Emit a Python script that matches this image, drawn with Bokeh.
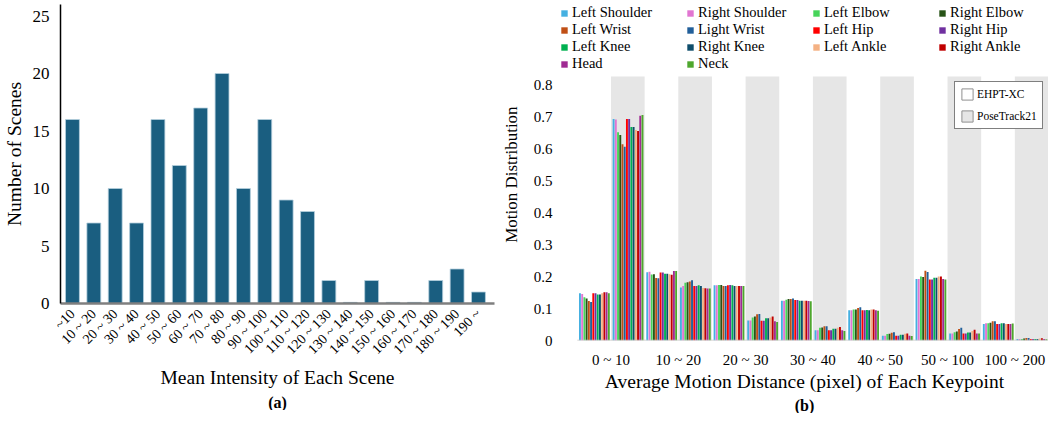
from bokeh.plotting import figure
from bokeh.layouts import row
from bokeh.models import (FixedTicker, Legend, LegendItem, Title, ColumnDataSource)
from bokeh.embed import file_html
from bokeh.resources import INLINE
import math

FONT = "Liberation Serif"
TXT = "black"

# ---------------- (a) data ----------------
intensity_labels = ["~10", "10 ~ 20", "20 ~ 30", "30 ~ 40", "40 ~ 50", "50 ~ 60", "60 ~ 70",
                    "70 ~ 80", "80 ~ 90", "90 ~ 100", "100 ~ 110", "110 ~ 120", "120 ~ 130",
                    "130 ~ 140", "140 ~ 150", "150 ~ 160", "160 ~ 170", "170 ~ 180",
                    "180 ~ 190", "190 ~"]
scene_counts = [16, 7, 10, 7, 16, 12, 17, 20, 10, 16, 9, 8, 2, 0.1, 2, 0.1, 0.1, 2, 3, 1]

# ---------------- (b) data ----------------
motion_ranges = ["0 ~ 10", "10 ~ 20", "20 ~ 30", "30 ~ 40", "40 ~ 50", "50 ~ 100", "100 ~ 200"]
keypoints = ["Left Shoulder", "Right Shoulder", "Left Elbow", "Right Elbow",
             "Left Wrist", "Light Wrist", "Left Hip", "Right Hip",
             "Left Knee", "Right Knee", "Left Ankle", "Right Ankle", "Head", "Neck"]
keypoint_colors = ["#45b0e1", "#e176d2", "#47d45a", "#275317", "#c04f15", "#215f9a",
                   "#ff0000", "#7030a0", "#00b050", "#0e4d6b", "#f4b183", "#c00000",
                   "#a02b93", "#4ea72e"]
# rows: motion range, columns: keypoint
ehpt_xc = [
    [0.148, 0.146, 0.136, 0.132, 0.124, 0.121, 0.148, 0.148, 0.144, 0.144, 0.148, 0.151, 0.151, 0.148],
    [0.214, 0.216, 0.207, 0.208, 0.196, 0.195, 0.213, 0.213, 0.209, 0.209, 0.208, 0.206, 0.218, 0.218],
    [0.173, 0.173, 0.174, 0.174, 0.171, 0.171, 0.173, 0.174, 0.173, 0.171, 0.171, 0.171, 0.171, 0.171],
    [0.125, 0.125, 0.128, 0.130, 0.130, 0.132, 0.127, 0.127, 0.125, 0.125, 0.125, 0.125, 0.124, 0.123],
    [0.095, 0.095, 0.097, 0.097, 0.102, 0.104, 0.095, 0.095, 0.096, 0.095, 0.097, 0.097, 0.095, 0.093],
    [0.193, 0.193, 0.201, 0.199, 0.219, 0.215, 0.191, 0.191, 0.197, 0.197, 0.201, 0.201, 0.193, 0.191],
    [0.052, 0.054, 0.054, 0.056, 0.060, 0.060, 0.052, 0.052, 0.054, 0.054, 0.052, 0.052, 0.052, 0.053],
]
posetrack21 = [
    [0.695, 0.693, 0.653, 0.645, 0.616, 0.608, 0.695, 0.695, 0.670, 0.670, 0.660, 0.657, 0.705, 0.707],
    [0.166, 0.171, 0.181, 0.183, 0.185, 0.189, 0.171, 0.171, 0.173, 0.171, 0.165, 0.164, 0.163, 0.163],
    [0.063, 0.063, 0.072, 0.075, 0.082, 0.083, 0.062, 0.062, 0.070, 0.070, 0.072, 0.075, 0.060, 0.058],
    [0.032, 0.032, 0.040, 0.041, 0.045, 0.045, 0.032, 0.032, 0.037, 0.037, 0.040, 0.042, 0.032, 0.030],
    [0.015, 0.015, 0.020, 0.021, 0.024, 0.026, 0.015, 0.015, 0.018, 0.018, 0.021, 0.022, 0.015, 0.014],
    [0.022, 0.022, 0.026, 0.028, 0.036, 0.040, 0.022, 0.022, 0.025, 0.025, 0.030, 0.034, 0.022, 0.022],
    [0.005, 0.005, 0.005, 0.006, 0.008, 0.008, 0.005, 0.005, 0.005, 0.005, 0.006, 0.007, 0.005, 0.004],
]
y_ticks_b = [0, 0.1, 0.2, 0.3, 0.4, 0.5, 0.6, 0.7, 0.8]
band_top = 0.828


def style_axis(ax, tick_size, label_size):
    ax.major_label_text_font = FONT
    ax.major_label_text_font_size = tick_size
    ax.major_label_text_color = TXT
    ax.major_tick_line_color = None
    ax.minor_tick_line_color = None
    ax.axis_label_text_font = FONT
    ax.axis_label_text_font_size = label_size
    ax.axis_label_text_font_style = "normal"
    ax.axis_label_text_color = TXT


# ================= figure (a) =================
n_a = len(intensity_labels)
p1 = figure(frame_width=434, height=410, x_range=(-0.56, n_a - 0.25), y_range=(0, 26),
            output_backend="svg", toolbar_location=None,
            min_border_left=46, min_border_right=4, min_border_top=4, min_border_bottom=0)
p1.vbar(x=list(range(n_a)), top=scene_counts, width=0.65, fill_color="#1a5e80",
        line_color="#b5cfdd", line_width=0.8)
p1.xgrid.visible = False
p1.ygrid.visible = False
p1.outline_line_color = None
p1.xaxis.ticker = FixedTicker(ticks=list(range(n_a)))
p1.xaxis.major_label_overrides = {i: s for i, s in enumerate(intensity_labels)}
p1.xaxis.major_label_orientation = math.pi / 4
style_axis(p1.xaxis[0], "14px", "19.5px")
p1.xaxis.major_label_standoff = 2
p1.xaxis.axis_line_color = "#7f7f7f"
p1.xaxis.axis_line_width = 2.5
p1.xaxis.axis_label = "Mean Intensity of Each Scene"
p1.xaxis.axis_label_standoff = 2
p1.yaxis.ticker = FixedTicker(ticks=[0, 5, 10, 15, 20, 25])
style_axis(p1.yaxis[0], "17px", "19.5px")
p1.yaxis.axis_line_color = "black"
p1.yaxis.axis_line_width = 1.5
p1.yaxis.major_label_standoff = 5
p1.yaxis.axis_label = "Number of Scenes"
p1.yaxis.axis_label_standoff = 5
p1.add_layout(Title(text="(a)", align="center", text_font=FONT, text_font_size="16px",
                    text_font_style="bold", text_color=TXT, standoff=0), "below")

# ================= figure (b) =================
n_groups = len(motion_ranges)
n_kp = len(keypoints)
n_sub = 2 * n_groups
FW, FH = 488, 336
p2 = figure(frame_width=FW, frame_height=FH, x_range=(-0.5, n_sub), y_range=(0, 1.054),
            output_backend="svg", toolbar_location=None,
            min_border_left=56, min_border_right=0, min_border_top=4, min_border_bottom=0)
p2.xgrid.visible = False
p2.ygrid.visible = False
p2.outline_line_color = None

# background bands: gray for PoseTrack21 sections
band_src = ColumnDataSource(data=dict(
    left=[2 * g + 1 for g in range(n_groups)],
    right=[2 * g + 2 for g in range(n_groups)],
))
p2.quad(left="left", right="right", bottom=0, top=band_top, source=band_src,
        fill_color="#e6e6e6", line_color=None)

offset = 0.045
step = 0.066
bar_renderers = []
for j, (name, color) in enumerate(zip(keypoints, keypoint_colors)):
    xs, tops = [], []
    for g in range(n_groups):
        xs.append(2 * g + offset + (j + 0.5) * step)
        tops.append(ehpt_xc[g][j])
        xs.append(2 * g + 1 + offset + (j + 0.5) * step)
        tops.append(posetrack21[g][j])
    r = p2.vbar(x=xs, top=tops, width=step * 0.86, fill_color=color, line_color=None)
    bar_renderers.append(r)

# baseline along the data extent
p2.segment(x0=[0], x1=[n_sub], y0=[0], y1=[0], line_color="#c8c8c8", line_width=1.5)

p2.xaxis.ticker = FixedTicker(ticks=[2 * g + 1 for g in range(n_groups)])
p2.xaxis.major_label_overrides = {2 * g + 1: s for g, s in enumerate(motion_ranges)}
style_axis(p2.xaxis[0], "15px", "19.5px")
p2.xaxis.major_label_standoff = 5
p2.xaxis.axis_line_color = None
p2.xaxis.axis_label = "Average Motion Distance (pixel) of Each Keypoint"
p2.xaxis.axis_label_standoff = 0

p2.yaxis.ticker = FixedTicker(ticks=y_ticks_b)
p2.yaxis.major_label_overrides = {0: "0"}
style_axis(p2.yaxis[0], "15px", "17px")
p2.yaxis.major_label_standoff = 2
p2.yaxis.axis_line_color = None
p2.yaxis.axis_label = "Motion  Distribution"
p2.yaxis.axis_label_standoff = 10
p2.add_layout(Title(text="(b)", align="center", text_font=FONT, text_font_size="16px",
                    text_font_style="bold", text_color=TXT, standoff=0), "below")

# keypoint legend at the top of the frame (row-major, 4 columns)
kp_legend = Legend(items=[LegendItem(label=k, renderers=[r]) for k, r in zip(keypoints, bar_renderers)],
                   ncols=4, orientation="horizontal", location="top_left",
                   glyph_width=8, glyph_height=8, label_standoff=4, label_width=114,
                   label_height=16, spacing=0, padding=0, margin=0,
                   label_text_font=FONT, label_text_font_size="14.5px", label_text_color=TXT,
                   border_line_color=None, background_fill_alpha=0)
p2.add_layout(kp_legend, "center")

# dataset legend: hidden renderers that only supply the legend glyphs
r_e = p2.quad(left="left", right="right", bottom=0, top=band_top, source=band_src,
              fill_color="white", line_color="#909090", visible=False)
r_p = p2.quad(left="left", right="right", bottom=0, top=band_top, source=band_src,
              fill_color="#e6e6e6", line_color="#909090", visible=False)
ds_legend = Legend(items=[LegendItem(label="EHPT-XC", renderers=[r_e]),
                          LegendItem(label="PoseTrack21", renderers=[r_p])],
                   location=(FW - 94, 211), glyph_width=14, glyph_height=14, label_standoff=3,
                   label_height=14, spacing=8, padding=5, margin=0,
                   label_text_font=FONT, label_text_font_size="11.5px", label_text_color=TXT,
                   border_line_color="black", border_line_width=1.5,
                   background_fill_color="white", background_fill_alpha=1,
                   inactive_fill_alpha=0)
p2.add_layout(ds_legend, "center")

layout = row(p1, p2)
open("out.html", "w").write(file_html(layout, INLINE))
